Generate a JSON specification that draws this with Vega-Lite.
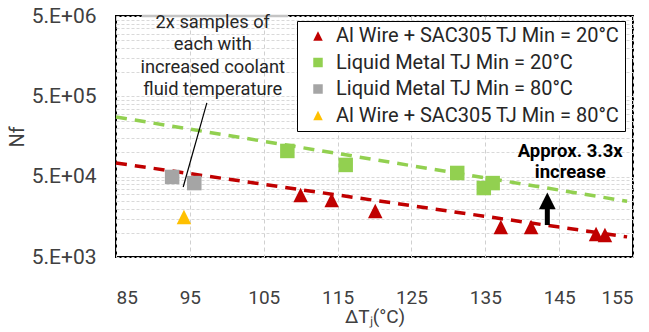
{
  "$schema": "https://vega.github.io/schema/vega-lite/v6.json",
  "width": 517,
  "height": 241,
  "autosize": {"type": "none"},
  "padding": {"left": 116, "top": 16, "right": 16, "bottom": 75},
  "config": {
    "font": "Roboto",
    "view": {"stroke": "#000000", "strokeWidth": 2},
    "axis": {"labelColor": "#404040", "titleColor": "#404040", "labelFont": "Roboto", "titleFont": "Roboto", "titleFontWeight": "normal"}
  },
  "datasets": {
    "pts": [
      {"series": "Al Wire + SAC305 TJ Min = 20°C", "dT": 110.0, "Nf": 29600},
      {"series": "Al Wire + SAC305 TJ Min = 20°C", "dT": 114.2, "Nf": 25600},
      {"series": "Al Wire + SAC305 TJ Min = 20°C", "dT": 120.1, "Nf": 18700},
      {"series": "Al Wire + SAC305 TJ Min = 20°C", "dT": 137.1, "Nf": 11800},
      {"series": "Al Wire + SAC305 TJ Min = 20°C", "dT": 141.2, "Nf": 11800},
      {"series": "Al Wire + SAC305 TJ Min = 20°C", "dT": 150.0, "Nf": 9700},
      {"series": "Al Wire + SAC305 TJ Min = 20°C", "dT": 151.2, "Nf": 9400},
      {"series": "Liquid Metal TJ Min = 20°C", "dT": 108.2, "Nf": 104500},
      {"series": "Liquid Metal TJ Min = 20°C", "dT": 116.1, "Nf": 70000},
      {"series": "Liquid Metal TJ Min = 20°C", "dT": 131.2, "Nf": 55600},
      {"series": "Liquid Metal TJ Min = 20°C", "dT": 134.8, "Nf": 36100},
      {"series": "Liquid Metal TJ Min = 20°C", "dT": 136.0, "Nf": 41600},
      {"series": "Liquid Metal TJ Min = 80°C", "dT": 92.6, "Nf": 49600},
      {"series": "Liquid Metal TJ Min = 80°C", "dT": 95.6, "Nf": 41600},
      {"series": "Al Wire + SAC305 TJ Min = 80°C", "dT": 94.2, "Nf": 15700}
    ],
    "greenTrend": [{"dT": 85, "Nf": 277000}, {"dT": 154.2, "Nf": 24700}],
    "redTrend": [{"dT": 85, "Nf": 74100}, {"dT": 154.2, "Nf": 8900}]
  },
  "layer": [
    {
      "data": {"name": "greenTrend"},
      "mark": {"type": "line", "color": "#92D050", "strokeWidth": 3.5, "strokeDash": [11, 8]},
      "encoding": {
        "x": {"field": "dT", "type": "quantitative", "scale": {"domain": [85, 155], "nice": false, "zero": false},
          "axis": {"values": [85, 95, 105, 115, 125, 135, 145, 155], "title": "ΔTⱼ(°C)", "titleFontSize": 19, "labelFontSize": 19, "ticks": false, "domain": false, "labelPadding": 31, "titlePadding": 0, "gridColor": "#d0d0d0", "gridDash": [4, 3], "gridWidth": 1}},
        "y": {"field": "Nf", "type": "quantitative", "scale": {"type": "log", "domain": [5000, 5000000], "nice": false},
          "axis": {"values": [5000, 10000, 15000, 20000, 25000, 30000, 35000, 40000, 45000, 50000, 100000, 150000, 200000, 250000, 300000, 350000, 400000, 450000, 500000, 1000000, 1500000, 2000000, 2500000, 3000000, 3500000, 4000000, 4500000, 5000000],
            "labelExpr": "datum.value == 5000 ? '5.E+03' : datum.value == 50000 ? '5.E+04' : datum.value == 500000 ? '5.E+05' : datum.value == 5000000 ? '5.E+06' : ''",
            "title": "Nf", "titleFontSize": 20, "labelFontSize": 21, "ticks": false, "domain": false, "labelPadding": 20, "titlePadding": 4, "gridColor": "#d9d9d9", "gridDash": [3, 2], "gridWidth": 1}}
      }
    },
    {
      "data": {"name": "redTrend"},
      "mark": {"type": "line", "color": "#C00000", "strokeWidth": 3.5, "strokeDash": [11, 8]},
      "encoding": {
        "x": {"field": "dT", "type": "quantitative"},
        "y": {"field": "Nf", "type": "quantitative"}
      }
    },
    {
      "data": {"values": [{"xa": 88.5, "xb": 108.3, "y": 5000000}]},
      "mark": {"type": "rule", "color": "#c4c4c4", "strokeWidth": 2.5},
      "encoding": {
        "x": {"field": "xa", "type": "quantitative"},
        "x2": {"field": "xb"},
        "y": {"field": "y", "type": "quantitative"}
      }
    },
    {
      "data": {"values": [{"x1": 97.3, "y1": 414000, "x2": 94.1, "y2": 37200}]},
      "mark": {"type": "rule", "color": "#000000", "strokeWidth": 1.2},
      "encoding": {
        "x": {"field": "x1", "type": "quantitative"},
        "y": {"field": "y1", "type": "quantitative"},
        "x2": {"field": "x2"},
        "y2": {"field": "y2"}
      }
    },
    {
      "data": {"name": "pts"},
      "mark": {"type": "point", "filled": true, "opacity": 1, "strokeWidth": 0},
      "encoding": {
        "x": {"field": "dT", "type": "quantitative"},
        "y": {"field": "Nf", "type": "quantitative"},
        "color": {"field": "series", "type": "nominal",
          "scale": {"domain": ["Al Wire + SAC305 TJ Min = 20°C", "Liquid Metal TJ Min = 20°C", "Liquid Metal TJ Min = 80°C", "Al Wire + SAC305 TJ Min = 80°C"],
            "range": ["#C00000", "#92D050", "#A5A5A5", "#FFC000"]},
          "legend": {"title": null, "orient": "none", "legendX": 181, "legendY": 5, "fillColor": "#ffffff", "strokeColor": "#000000", "padding": 5, "rowPadding": 6.5, "labelFontSize": 20, "labelColor": "#262626", "labelFont": "Roboto", "symbolSize": 90, "symbolOffset": 6, "labelOffset": 8, "labelLimit": 400,
            "encode": {"legend": {"update": {"strokeWidth": {"value": 2}}}}}},
        "shape": {"field": "series", "type": "nominal",
          "scale": {"domain": ["Al Wire + SAC305 TJ Min = 20°C", "Liquid Metal TJ Min = 20°C", "Liquid Metal TJ Min = 80°C", "Al Wire + SAC305 TJ Min = 80°C"],
            "range": ["M0,-1L1,1L-1,1Z", "square", "square", "M0,-1L1,1L-1,1Z"]}},
        "size": {"value": 210}
      }
    },
    {
      "data": {"values": [{"x": 143.4, "y1": 12500, "y2": 21000}]},
      "mark": {"type": "rule", "color": "#000000", "strokeWidth": 5},
      "encoding": {
        "x": {"field": "x", "type": "quantitative"},
        "y": {"field": "y1", "type": "quantitative"},
        "y2": {"field": "y2"}
      }
    },
    {
      "data": {"values": [{"x": 143.4, "y": 25000}]},
      "mark": {"type": "point", "filled": true, "opacity": 1, "color": "#000000", "strokeWidth": 0, "shape": "M0,-1L1,1L-1,1Z", "size": 280},
      "encoding": {
        "x": {"field": "x", "type": "quantitative"},
        "y": {"field": "y", "type": "quantitative"}
      }
    },
    {
      "data": {"values": [{"x": 146.5, "y": 104500, "label": "Approx. 3.3x\nincrease"}]},
      "mark": {"type": "text", "font": "Roboto", "fontSize": 18.5, "fontWeight": "bold", "color": "#000000", "lineBreak": "\n", "lineHeight": 21, "align": "center", "baseline": "middle"},
      "encoding": {
        "x": {"field": "x", "type": "quantitative"},
        "y": {"field": "y", "type": "quantitative"},
        "text": {"field": "label"}
      }
    },
    {
      "data": {"values": [{"x": 98.1, "y": 4100000, "label": "2x samples of\neach with\nincreased coolant\nfluid temperature"}]},
      "mark": {"type": "text", "font": "Roboto", "fontSize": 18.3, "color": "#262626", "lineBreak": "\n", "lineHeight": 22.5, "align": "center", "baseline": "middle"},
      "encoding": {
        "x": {"field": "x", "type": "quantitative"},
        "y": {"field": "y", "type": "quantitative"},
        "text": {"field": "label"}
      }
    }
  ]
}
